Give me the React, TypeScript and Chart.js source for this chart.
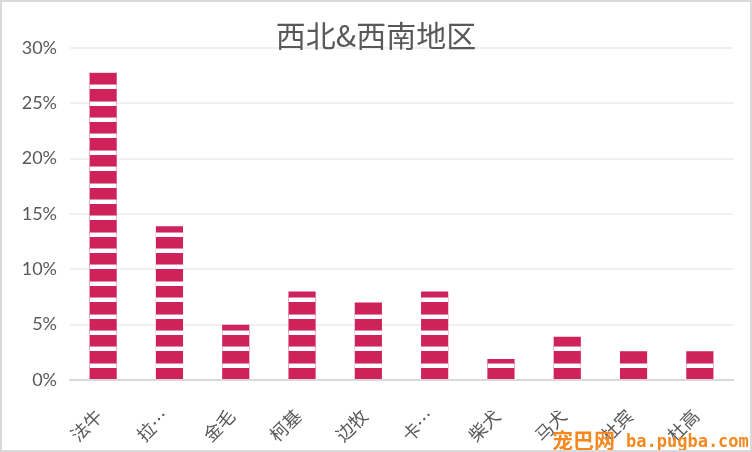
import React, { useEffect, useRef } from "react";
import { Chart, registerables } from "chart.js";

Chart.register(...registerables);

const categories = ["法牛", "拉…", "金毛", "柯基", "边牧", "卡…", "柴犬", "马犬", "杜宾", "杜高"];
const shares = [27.8, 13.9, 5.0, 8.0, 7.0, 8.0, 1.9, 3.9, 2.6, 2.6];
const yTicks = [0, 5, 10, 15, 20, 25, 30];
const titleText = "西北&西南地区";
const watermarkCn = "宠巴网";
const watermarkUrl = "ba.pugba.com";

const BAR_COLOR = "rgb(208,34,90)";
const STRIPE_START = 1.11;
const STRIPE_STEP = 1.48;

const stripePlugin = {
  id: "stripes",
  afterDatasetsDraw(chart: any) {
    const ctx = chart.ctx;
    const meta = chart.getDatasetMeta(0);
    const ys = chart.scales.y;
    meta.data.forEach((bar: any, i: number) => {
      const p = bar.getProps(["x", "y", "base", "width"], true);
      const left = p.x - p.width / 2;
      ctx.save();
      ctx.beginPath();
      ctx.rect(left, p.y, p.width, p.base - p.y);
      ctx.clip();
      for (let k = 0; STRIPE_START + k * STRIPE_STEP < shares[i]; k++) {
        const py = Math.round(ys.getPixelForValue(STRIPE_START + k * STRIPE_STEP));
        ctx.fillStyle = "#ffffff";
        ctx.fillRect(left, py - 4, p.width, 4);
        ctx.fillStyle = "#e48aa6";
        ctx.fillRect(left, py - 5, p.width, 1);
      }
      ctx.restore();
    });
  },
};

const decorPlugin = {
  id: "decor",
  afterDraw(chart: any) {
    const ctx = chart.ctx;
    ctx.save();
    ctx.fillStyle = "#595959";
    ctx.font = '30px "Noto Sans CJK SC", sans-serif';
    ctx.textAlign = "center";
    ctx.textBaseline = "middle";
    ctx.fillText(titleText, 376, 36);
    ctx.fillStyle = "#f5891f";
    ctx.textAlign = "left";
    ctx.textBaseline = "alphabetic";
    ctx.font = 'bold 21px "Noto Sans CJK SC", sans-serif';
    ctx.fillText(watermarkCn, 552, 448);
    ctx.font = 'bold 17px "DejaVu Sans Mono", monospace';
    ctx.fillText(watermarkUrl, 626, 447);
    ctx.strokeStyle = "#d9d9d9";
    ctx.lineWidth = 2;
    ctx.strokeRect(1, 1, 750, 450);
    ctx.restore();
  },
};

export default function App() {
  const ref = useRef<HTMLCanvasElement>(null);
  useEffect(() => {
    document.body.style.margin = "0";
    const chart = new Chart(ref.current as HTMLCanvasElement, {
      type: "bar",
      data: {
        labels: categories,
        datasets: [
          {
            data: shares,
            backgroundColor: BAR_COLOR,
            barPercentage: 0.41,
            categoryPercentage: 1,
          },
        ],
      },
      options: {
        animation: false,
        responsive: false,
        layout: { padding: { left: 0, right: 19, top: 48, bottom: 0 } },
        plugins: {
          legend: { display: false },
          tooltip: { enabled: false },
          title: { display: false },
        },
        scales: {
          x: {
            grid: { display: false },
            border: { display: true, color: "#d9d9d9", width: 2 },
            ticks: {
              color: "#595959",
              font: { family: '"Noto Sans CJK SC", sans-serif', size: 18 },
              minRotation: 45,
              maxRotation: 45,
              autoSkip: false,
              padding: 17,
              labelOffset: -4,
            },
            afterFit: (s: any) => {
              s.height = 72;
            },
          },
          y: {
            min: 0,
            max: 30,
            afterBuildTicks: (s: any) => {
              s.ticks = yTicks.map((v) => ({ value: v }));
            },
            grid: {
              color: (c: any) => (c.tick && c.tick.value === 0 ? "#d9d9d9" : "#f0f0f0"),
              lineWidth: 2,
              drawTicks: false,
            },
            border: { display: false },
            ticks: {
              color: "#595959",
              font: { family: 'Lato, "Noto Sans", sans-serif', size: 18 },
              padding: 13,
              callback: (v: any) => v + "%",
            },
            afterFit: (s: any) => {
              s.width = 70;
            },
          },
        },
      },
      plugins: [stripePlugin, decorPlugin],
    });
    return () => chart.destroy();
  }, []);
  return (
    <div style={{ width: 752, height: 452 }}>
      <canvas ref={ref} width={752} height={452} style={{ display: "block", width: 752, height: 452 }} />
    </div>
  );
}
